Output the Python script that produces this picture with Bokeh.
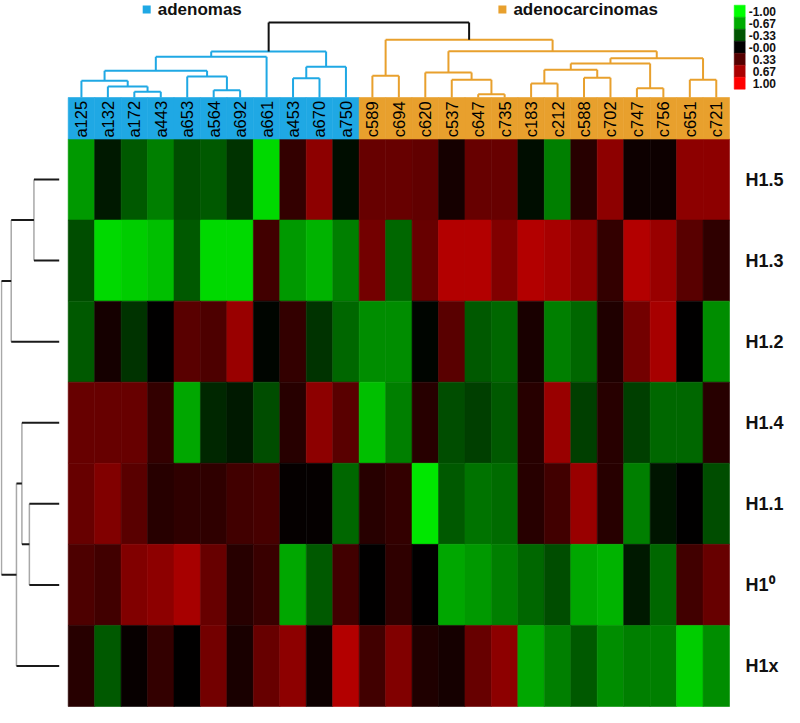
import math
from bokeh.plotting import figure
from bokeh.models import Range1d, LinearColorMapper, ColumnDataSource
from bokeh.transform import transform
from bokeh.core.properties import value
from bokeh.embed import file_html
from bokeh.resources import INLINE

# ---------------- data ----------------
samples = ["a125", "a132", "a172", "a443", "a653", "a564", "a692", "a661", "a453", "a670", "a750",
           "c589", "c694", "c620", "c537", "c647", "c735", "c183", "c212", "c588", "c702",
           "c747", "c756", "c651", "c721"]
rows = ["H1.5", "H1.3", "H1.2", "H1.4", "H1.1", "H1\u2070", "H1x"]

h1_5 = [-0.60, -0.10, -0.35, -0.50, -0.30, -0.35, -0.20, -0.85, 0.20, 0.55, -0.05,
        0.40, 0.40, 0.38, 0.08, 0.40, 0.40, -0.05, -0.50, 0.15, 0.55, 0.05, 0.05, 0.55, 0.55]
h1_3 = [-0.30, -0.85, -0.80, -0.75, -0.35, -0.85, -0.85, 0.25, -0.60, -0.70, -0.50,
        0.45, -0.40, 0.40, 0.70, 0.70, 0.50, 0.70, 0.65, 0.55, 0.20, 0.70, 0.60, 0.35, 0.18]
h1_2 = [-0.35, 0.08, -0.20, 0.00, 0.35, 0.30, 0.60, -0.02, 0.20, -0.20, -0.40,
        -0.55, -0.55, -0.02, 0.35, -0.35, -0.40, 0.10, -0.50, -0.40, 0.12, 0.45, 0.65, 0.00, -0.55]
h1_4 = [0.40, 0.40, 0.40, 0.20, -0.65, -0.15, -0.10, -0.30, 0.15, 0.55, 0.35,
        -0.75, -0.50, 0.15, -0.30, -0.25, -0.35, 0.15, 0.60, -0.25, 0.15, -0.25, -0.40, -0.40, 0.15]
h1_1 = [0.40, 0.50, 0.35, 0.15, 0.18, 0.18, 0.25, 0.28, 0.02, 0.02, -0.40,
        0.15, 0.20, -0.90, -0.35, -0.45, -0.42, 0.15, 0.25, 0.60, 0.15, -0.50, -0.08, 0.00, -0.30]
h1_0 = [0.30, 0.25, 0.50, 0.55, 0.65, 0.40, 0.15, 0.22, -0.65, -0.35, 0.25,
        0.00, 0.18, 0.00, -0.65, -0.60, -0.50, -0.40, -0.30, -0.65, -0.70, -0.10, -0.40, 0.25, 0.40]
h1_x = [0.15, -0.35, 0.03, 0.20, 0.00, 0.45, 0.10, 0.40, 0.55, 0.05, 0.70,
        0.25, 0.50, 0.12, 0.08, 0.40, 0.55, -0.65, -0.50, -0.35, -0.55, -0.50, -0.50, -0.80, -0.55]
matrix = [h1_5, h1_3, h1_2, h1_4, h1_1, h1_0, h1_x]

# column dendrogram: (left, right, merge height); "mK" = K-th merge
top_links = [
    ("a172", "a443", 5.7), ("a132", "m0", 11.0), ("a125", "m1", 16.7),
    ("a564", "a692", 7.3), ("a653", "m3", 21.0), ("m2", "m4", 26.7),
    ("m5", "a661", 40.7), ("a453", "a670", 19.3), ("m7", "a750", 30.7),
    ("m6", "m8", 46.0),
    ("c589", "c694", 21.7), ("c647", "c735", 3.3), ("c537", "m11", 17.7),
    ("c620", "m12", 25.0), ("c183", "c212", 14.0), ("c588", "c702", 19.7),
    ("m14", "m15", 27.7), ("c747", "c756", 9.3), ("m16", "m17", 34.0),
    ("c651", "c721", 17.7), ("m18", "m19", 39.3), ("m13", "m20", 46.3),
    ("m10", "m21", 57.7), ("m9", "m22", 75.0),
]
# row dendrogram
left_links = [
    ("H1.5", "H1.3", 26.0), ("m0", "H1.2", 49.4), ("H1.1", "H1\u2070", 30.7),
    ("H1.4", "m2", 38.4), ("m3", "H1x", 44.0), ("m1", "m4", 59.4),
]

groups = ["adenomas", "adenocarcinomas"]
group_colors = {"adenomas": "#1FA8E4", "adenocarcinomas": "#E8A02D"}
sample_group = ["adenomas" if s.startswith("a") else "adenocarcinomas" for s in samples]

legend_ticks = [-1.00, -0.67, -0.33, -0.00, 0.33, 0.67, 1.00]
legend_labels = ["-1.00", "-0.67", "-0.33", "-0.00", "0.33", "0.67", "1.00"]

# ---------------- layout helpers ----------------
W, H = 784, 707
FONT = "Liberation Sans"


def rng(d0, p0, d1, p1, size):
    s = (d1 - d0) / (p1 - p0)
    return d0 + (0 - p0) * s, d0 + (size - p0) * s


xa, xb = rng(0, 67.7, len(samples), 729.0, W)
ya, yb = rng(0, 138.5, len(rows), 706.0, H)          # y in px from top
tha, thb = rng(0, 97.0, 75.0, 22.0, H)
lda, ldb = rng(0, 58.7, 59.4, 1.0, W)

p = figure(width=W, height=H, output_backend="svg", toolbar_location=None,
           x_axis_location=None, y_axis_location=None, min_border=0,
           x_range=Range1d(xa, xb), y_range=Range1d(yb, ya))
p.grid.visible = False
p.outline_line_color = None
p.background_fill_color = "white"
p.extra_x_ranges = {"px": Range1d(0, W), "ld": Range1d(lda, ldb)}
p.extra_y_ranges = {"py": Range1d(H, 0), "th": Range1d(thb, tha)}

# colour map green - black - red
palette = []
for i in range(256):
    v = -1 + 2 * i / 255
    if v < 0:
        palette.append("#%02x%02x%02x" % (0, round(-v * 255), 0))
    else:
        palette.append("#%02x%02x%02x" % (round(v * 255), 0, 0))
mapper = LinearColorMapper(palette=palette, low=-1, high=1)

# ---------------- heatmap ----------------
hx, hy, hv = [], [], []
for r, row in enumerate(matrix):
    for c, v in enumerate(row):
        hx.append(c + 0.5)
        hy.append(r + 0.5)
        hv.append(v)
src = ColumnDataSource(dict(x=hx, y=hy, v=hv))
p.rect(x="x", y="y", width=1, height=1, source=src,
       fill_color=transform("v", mapper), line_color=transform("v", mapper), line_width=0.6)

# ---------------- column band + labels ----------------
band_top, band_bot = 97.0, 138.5
p.rect(x=[i + 0.5 for i in range(len(samples))], y=(band_top + band_bot) / 2,
       width=1, height=band_bot - band_top, y_range_name="py",
       fill_color=[group_colors[g] for g in sample_group],
       line_color=[group_colors[g] for g in sample_group], line_width=0.6)
p.text(x=[i + 0.5 for i in range(len(samples))], y=(band_top + band_bot) / 2 + 1,
       text=samples, y_range_name="py", angle=math.pi / 2,
       text_align="center", text_baseline="middle",
       text_font=value(FONT), text_font_size="16.5px", text_color="black")

# ---------------- row labels ----------------
p.text(x=745, y=[r + 0.5 for r in range(len(rows))], text=rows, x_range_name="px",
       text_align="left", text_baseline="middle", text_font=value(FONT),
       text_font_size="18px", text_font_style="bold", text_color="#111111")


# ---------------- dendrograms ----------------
def build(leaves, links):
    pos = {l: i + 0.5 for i, l in enumerate(leaves)}
    hgt = {l: 0.0 for l in leaves}
    mem = {l: [l] for l in leaves}
    out = []
    for k, (a, b, h) in enumerate(links):
        name = "m%d" % k
        members = mem[a] + mem[b]
        out.append((pos[a], hgt[a], pos[a], h, "stem", members))
        out.append((pos[b], hgt[b], pos[b], h, "stem", members))
        out.append((pos[a], h, pos[b], h, "cross", members))
        pos[name] = (pos[a] + pos[b]) / 2
        hgt[name] = h
        mem[name] = members
    return out


gmap = dict(zip(samples, sample_group))
tsegs = build(samples, top_links)
tcol = []
for s in tsegs:
    gs = set(gmap[m] for m in s[5])
    tcol.append(group_colors[gs.pop()] if len(gs) == 1 else "#111111")
p.segment(x0=[s[0] for s in tsegs], y0=[s[1] for s in tsegs],
          x1=[s[2] for s in tsegs], y1=[s[3] for s in tsegs],
          y_range_name="th", line_color=tcol, line_width=2)

lsegs = build(rows, left_links)
stems = [s for s in lsegs if s[4] == "stem"]
cross = [s for s in lsegs if s[4] == "cross"]
p.segment(x0=[s[1] for s in cross], y0=[s[0] for s in cross],
          x1=[s[3] for s in cross], y1=[s[2] for s in cross],
          x_range_name="ld", line_color="#a8a8a8", line_width=1.5)
p.segment(x0=[s[1] for s in stems], y0=[s[0] for s in stems],
          x1=[s[3] for s in stems], y1=[s[2] for s in stems],
          x_range_name="ld", line_color="#1a1a1a", line_width=2)

# ---------------- group legend ----------------
gl_x = [146.2, 501.9]
p.rect(x=gl_x, y=8.9, width=8, height=8, x_range_name="px", y_range_name="py",
       fill_color=[group_colors[g] for g in groups], line_color=None)
p.text(x=[g + 11 for g in gl_x], y=8.7, text=groups, x_range_name="px", y_range_name="py",
       text_align="left", text_baseline="middle", text_font=value(FONT),
       text_font_size="17px", text_font_style="bold", text_color="#111111")

# ---------------- colour legend ----------------
ly = [10.7 + 12 * k for k in range(len(legend_ticks))]
lsrc = ColumnDataSource(dict(y=ly, v=legend_ticks, t=legend_labels))
p.rect(x=739.2, y="y", width=11, height=12, source=lsrc, x_range_name="px", y_range_name="py",
       fill_color=transform("v", mapper), line_color=transform("v", mapper), line_width=0.5)
p.text(x=775.5, y="y", text="t", source=lsrc, x_range_name="px", y_range_name="py",
       text_align="right", text_baseline="middle", text_font=value(FONT),
       text_font_size="12px", text_font_style="bold", text_color="#111111")

open("out.html", "w").write(file_html(p, INLINE))
